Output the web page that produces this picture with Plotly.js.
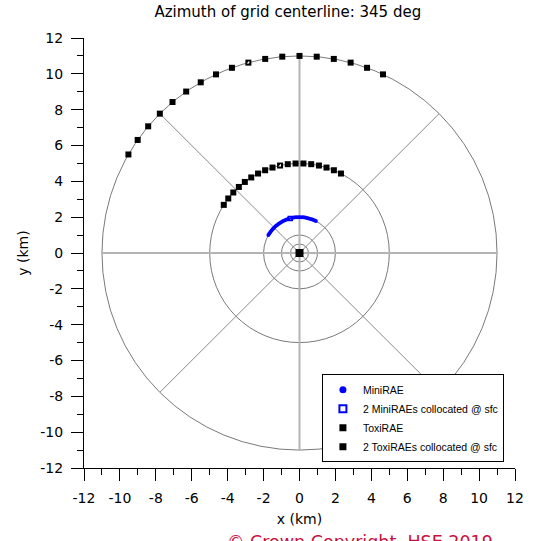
<!DOCTYPE html>
<html>
<head>
<meta charset="utf-8">
<script src="https://cdn.plot.ly/plotly-3.0.1.min.js"></script>
<style>html,body{margin:0;padding:0;background:#fff;}#chart{width:538px;height:541px;}</style>
</head>
<body>
<div id="chart"></div>
<script>
// ---- data (azimuth in degrees clockwise from north, radius in km) ----
var toxiOuterAz = [-60,-55,-50,-45,-40,-35,-30,-25,-20,-10,-5,0,5,10,15,20,25];
var toxiOuterR = 11;
var toxiInnerAz = [-57.5,-52.5,-47.5,-42.5,-37.5,-32.5,-27.5,-22.5,-17.5,-7.5,-2.5,2.5,7.5,12.5,17.5,22.5,27.5];
var toxiInnerR = 5;
var toxiColAz = [-15, -12.5];
var toxiColR = [11, 5];
var miniAz = [-60,-57,-54,-51,-48,-45,-42,-39,-36,-33,-30,-27,-24,-21,-18,-12,-9,-6,-3,0,3,6,9,12,15,18,21,24,27];
var miniR = 2;
var miniColAz = [-15];
var miniColR = [2];
var sourceX = [0];
var sourceY = [0];
var ringRadii = [0.5, 1, 2, 5, 11];
var spokeAz = [0, 45, 90, 135, 180, 225, 270, 315];
var tickVals = [-12,-10,-8,-6,-4,-2,0,2,4,6,8,10,12];
var tickText = ['-12','-10','-8','-6','-4','-2','0','2','4','6','8','10','12'];
var minorVals = [-11,-9,-7,-5,-3,-1,1,3,5,7,9,11];

function toXY(azs, rs) {
  var x = [], y = [];
  for (var i = 0; i < azs.length; i++) {
    var r = Array.isArray(rs) ? rs[i] : rs;
    var a = azs[i] * Math.PI / 180;
    x.push(r * Math.sin(a));
    y.push(r * Math.cos(a));
  }
  return {x: x, y: y};
}

var outer = toXY(toxiOuterAz, toxiOuterR);
var inner = toXY(toxiInnerAz, toxiInnerR);
var col = toXY(toxiColAz, toxiColR);
var mini = toXY(miniAz, miniR);
var miniCol = toXY(miniColAz, miniColR);

var shapes = [];
ringRadii.forEach(function (r) {
  shapes.push({type: 'circle', xref: 'x', yref: 'y', x0: -r, y0: -r, x1: r, y1: r,
    line: {color: '#7a7a7a', width: 1}, layer: 'below'});
});
var R = ringRadii[ringRadii.length - 1];
spokeAz.forEach(function (az) {
  var a = az * Math.PI / 180;
  var cardinal = (az % 90 === 0);
  shapes.push({type: 'line', xref: 'x', yref: 'y', x0: 0, y0: 0,
    x1: R * Math.sin(a), y1: R * Math.cos(a),
    line: {color: cardinal ? '#b4b4b4' : '#8a8a8a', width: cardinal ? 2 : 1}, layer: 'below'});
});

var traces = [
  {x: mini.x, y: mini.y, mode: 'markers', type: 'scatter', showlegend: false,
   marker: {symbol: 'circle', size: 4, color: '#0000ff'}, hoverinfo: 'skip'},
  {x: miniCol.x, y: miniCol.y, mode: 'markers', type: 'scatter', showlegend: false,
   marker: {symbol: 'square-open', size: 4, color: '#0000ff', line: {width: 1.5, color: '#0000ff'}}},
  {x: outer.x.concat(inner.x), y: outer.y.concat(inner.y), mode: 'markers', type: 'scatter', showlegend: false,
   marker: {symbol: 'square', size: 6, color: '#000000'}},
  {x: col.x, y: col.y, mode: 'markers', type: 'scatter', showlegend: false,
   marker: {symbol: 'square', size: 6, color: '#000000'}},
  {x: col.x, y: col.y, mode: 'markers', type: 'scatter', showlegend: false,
   marker: {symbol: 'triangle-se', size: 3, color: '#ffffff'}},
  {x: sourceX, y: sourceY, mode: 'markers', type: 'scatter', showlegend: false,
   marker: {symbol: 'square', size: 8, color: '#000000'}},
  // legend entries
  {x: [null], y: [null], mode: 'markers', type: 'scatter', name: 'MiniRAE',
   marker: {symbol: 'circle', size: 7, color: '#0000ff'}},
  {x: [null], y: [null], mode: 'markers', type: 'scatter', name: '2 MiniRAEs collocated @ sfc',
   marker: {symbol: 'square-open', size: 7, color: '#0000ff', line: {width: 2, color: '#0000ff'}}},
  {x: [null], y: [null], mode: 'markers', type: 'scatter', name: 'ToxiRAE',
   marker: {symbol: 'square', size: 7, color: '#000000'}},
  {x: [null], y: [null], mode: 'markers', type: 'scatter', name: '2 ToxiRAEs collocated @ sfc',
   marker: {symbol: 'square', size: 7, color: '#000000'}}
];

var axisCommon = {
  range: [-12, 12], showgrid: false, zeroline: false,
  showline: true, linecolor: '#000', linewidth: 1, mirror: false,
  ticks: 'outside', ticklen: 12, tickwidth: 1, tickcolor: '#000',
  tickmode: 'array', tickvals: tickVals, ticktext: tickText,
  tickfont: {family: 'DejaVu Sans, Verdana, sans-serif', size: 14, color: '#000'},
  ticklabelstandoff: 5,
  minor: {tickmode: 'array', tickvals: minorVals, ticks: 'outside', ticklen: 6, tickcolor: '#000', tickwidth: 1}
};

var layout = {
  width: 538, height: 541,
  margin: {l: 84, r: 23, t: 38, b: 73, pad: 0},
  paper_bgcolor: '#fff', plot_bgcolor: '#fff',
  font: {family: 'DejaVu Sans, Verdana, sans-serif', size: 13, color: '#000'},
  title: {text: 'Azimuth of grid centerline: 345 deg', x: 0.535, xref: 'container', xanchor: 'center',
          y: 0.978, yref: 'container', yanchor: 'middle',
          font: {family: 'DejaVu Sans, Verdana, sans-serif', size: 15, color: '#000'}},
  xaxis: Object.assign({}, axisCommon, {title: {text: 'x (km)', standoff: 9,
          font: {family: 'DejaVu Sans, Verdana, sans-serif', size: 14, color: '#000'}}}),
  yaxis: Object.assign({}, axisCommon, {title: {text: 'y (km)', standoff: 8,
          font: {family: 'DejaVu Sans, Verdana, sans-serif', size: 14, color: '#000'}}}),
  shapes: shapes,
  showlegend: true,
  legend: {x: 0.552, y: 0.218, xanchor: 'left', yanchor: 'top', bgcolor: '#fff',
           bordercolor: '#000', borderwidth: 1,
           font: {family: 'Liberation Sans, Arial, sans-serif', size: 10.5, color: '#000'},
           itemsizing: 'trace'},
  annotations: [{text: '© Crown Copyright, HSE 2019', xref: 'paper', yref: 'paper',
                 x: 0.64, y: -0.172, xanchor: 'center', yanchor: 'middle', showarrow: false,
                 font: {family: 'DejaVu Sans, Verdana, sans-serif', size: 17.5, color: '#c8103c'}}]
};

Plotly.newPlot('chart', traces, layout, {displayModeBar: false, staticPlot: true});
</script>
</body>
</html>
